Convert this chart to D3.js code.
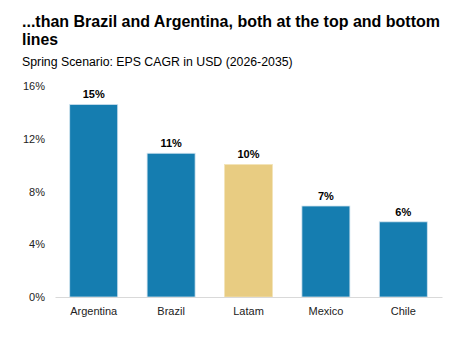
<!DOCTYPE html>
<html>
<head>
<meta charset="utf-8">
<script src="https://cdn.jsdelivr.net/npm/d3@7"></script>
<style>
    body { margin: 0; background: #fff; }
    #chart text { font-family: "Liberation Sans", Arial, sans-serif; }
</style>
</head>
<body>
<div id="chart"></div>
<script>
// EPS CAGR by market
const categories = ["Argentina", "Brazil", "Latam", "Mexico", "Chile"];
const cagr = [0.146, 0.109, 0.1005, 0.069, 0.057];
const yTicks = [0, 0.04, 0.08, 0.12, 0.16];
const highlight = ["Latam"];

const width = 462;
const height = 337;
const margin = { top: 86, right: 20, bottom: 40, left: 55 };

const svg = d3.select("#chart")
    .append("svg")
    .attr("width", width)
    .attr("height", height);

// Title and subtitle
svg.append("text")
    .attr("x", 22).attr("y", 27)
    .style("font-size", "15.8px").style("font-weight", "bold").attr("fill", "#000")
    .attr("textLength", 418).attr("lengthAdjust", "spacingAndGlyphs")
    .text("...than Brazil and Argentina, both at the top and bottom");
svg.append("text")
    .attr("x", 22).attr("y", 45)
    .style("font-size", "15.8px").style("font-weight", "bold").attr("fill", "#000")
    .text("lines");
svg.append("text")
    .attr("x", 22).attr("y", 66)
    .style("font-size", "12.3px").attr("fill", "#000")
    .text("Spring Scenario: EPS CAGR in USD (2026-2035)");

const x = d3.scaleBand()
    .domain(categories)
    .range([margin.left, width - margin.right])
    .paddingInner(0.38)
    .paddingOuter(0.19);

const y = d3.scaleLinear()
    .domain([0, 0.16])
    .range([height - margin.bottom, margin.top]);

const pct = d3.format(".0%");

// Y axis (labels only)
const yAxis = svg.append("g")
    .attr("transform", `translate(${margin.left}, 0)`)
    .call(d3.axisLeft(y).tickValues(yTicks).tickFormat(pct).tickSize(0).tickPadding(10));
yAxis.select(".domain").remove();
yAxis.selectAll("text")
    .style("font-size", "11px")
    .attr("fill", "#222");

// Bars
svg.selectAll("rect.bar")
    .data(categories)
    .enter()
    .append("rect")
    .attr("class", "bar")
    .attr("x", d => x(d))
    .attr("y", (d, i) => y(cagr[i]))
    .attr("width", x.bandwidth())
    .attr("height", (d, i) => y(0) - y(cagr[i]))
    .attr("fill", d => highlight.includes(d) ? "#e8cc82" : "#157db0")
    .attr("stroke", d => highlight.includes(d) ? "#f3e4b8" : "#cfe2ee")
    .attr("stroke-width", 0.8);

// Value labels
svg.selectAll("text.value")
    .data(categories)
    .enter()
    .append("text")
    .attr("class", "value")
    .attr("x", d => x(d) + x.bandwidth() / 2)
    .attr("y", (d, i) => y(cagr[i]) - 6)
    .attr("text-anchor", "middle")
    .style("font-size", "11px")
    .style("font-weight", "bold")
    .attr("fill", "#000")
    .text((d, i) => pct(cagr[i]));

// X axis baseline and category labels
const xAxis = svg.append("g")
    .attr("transform", `translate(0, ${y(0)})`)
    .call(d3.axisBottom(x).tickSize(0).tickPadding(10).tickSizeOuter(0));
xAxis.select(".domain")
    .attr("stroke", "#d9d9d9")
    .attr("stroke-width", 1.2);
xAxis.selectAll("text")
    .style("font-size", "11px")
    .attr("fill", "#222");
</script>
</body>
</html>
